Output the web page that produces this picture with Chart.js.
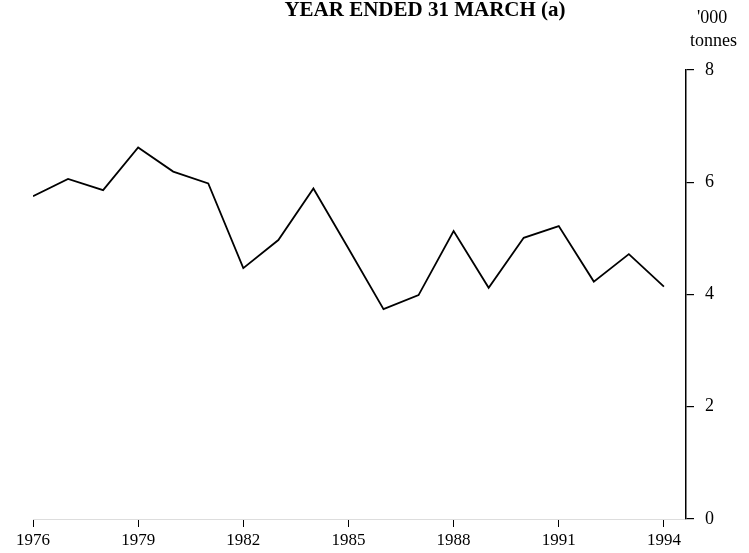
<!DOCTYPE html>
<html>
<head>
<meta charset="utf-8">
<script src="https://cdn.jsdelivr.net/npm/chart.js@4/dist/chart.umd.min.js"></script>
<style>
  body { margin: 0; background: #fff; }
  #wrap { width: 749px; height: 553px; }
</style>
</head>
<body>
<div id="wrap"><canvas id="myChart" width="749" height="553"></canvas></div>
<script>
// Годы (ось X)
const years = [1976, 1977, 1978, 1979, 1980, 1981, 1982, 1983, 1984, 1985,
               1986, 1987, 1988, 1989, 1990, 1991, 1992, 1993, 1994];
// Значения, тыс. тонн
const tonnes = [5.75, 6.06, 5.86, 6.62, 6.19, 5.98, 4.47, 4.97, 5.89, 4.82,
                3.74, 3.99, 5.13, 4.12, 5.01, 5.22, 4.23, 4.72, 4.14];
// Подписи делений
const xTicks = [1976, 1979, 1982, 1985, 1988, 1991, 1994];
const yTicks = [0, 2, 4, 6, 8];

const serif = '"Liberation Serif", "DejaVu Serif", serif';

// Заголовок и подпись единиц
const labelsPlugin = {
  id: 'labels',
  afterDraw(chart) {
    const c = chart.ctx;
    const y = chart.scales.y;
    c.save();
    c.fillStyle = '#000';
    c.textBaseline = 'middle';
    c.textAlign = 'center';
    c.font = 'bold 21px ' + serif;
    c.fillText('YEAR ENDED 31 MARCH (a)', 425, 11);
    c.font = '18px ' + serif;
    c.textAlign = 'left';
    c.fillText("'000", y.left + 11, 18);
    c.fillText('tonnes', y.left + 4, 41);
    c.restore();
  }
};

let ctx = document.getElementById('myChart').getContext('2d');
let chart = new Chart(ctx, {
  type: 'line',
  data: {
    datasets: [{
      data: years.map((yr, i) => ({ x: yr, y: tonnes[i] })),
      borderColor: '#000',
      borderWidth: 1.8,
      pointRadius: 0,
      tension: 0,
      fill: false
    }]
  },
  options: {
    responsive: false,
    animation: false,
    layout: { padding: { top: 70, left: 33, right: 0, bottom: 0 } },
    plugins: { legend: { display: false }, tooltip: { enabled: false } },
    scales: {
      x: {
        type: 'linear',
        min: 1976,
        max: 1994.63,
        afterBuildTicks: s => { s.ticks = xTicks.map(v => ({ value: v })); },
        afterFit: s => { s.height = 34; },
        grid: { drawOnChartArea: false, tickLength: 8, color: '#000', lineWidth: 1 },
        border: { color: '#ddd', width: 1 },
        ticks: {
          autoSkip: false,
          maxRotation: 0,
          color: '#000',
          padding: 3,
          font: { family: serif, size: 17 },
          callback: v => String(v)
        }
      },
      y: {
        position: 'right',
        min: 0,
        max: 8,
        afterBuildTicks: s => { s.ticks = yTicks.map(v => ({ value: v })); },
        afterFit: s => { s.width = 63; },
        grid: { drawOnChartArea: false, tickLength: 8, color: '#000', lineWidth: 1.2 },
        border: { color: '#000', width: 1.5 },
        ticks: {
          color: '#000',
          padding: 11,
          font: { family: serif, size: 18 }
        }
      }
    }
  },
  plugins: [labelsPlugin]
});
</script>
</body>
</html>
